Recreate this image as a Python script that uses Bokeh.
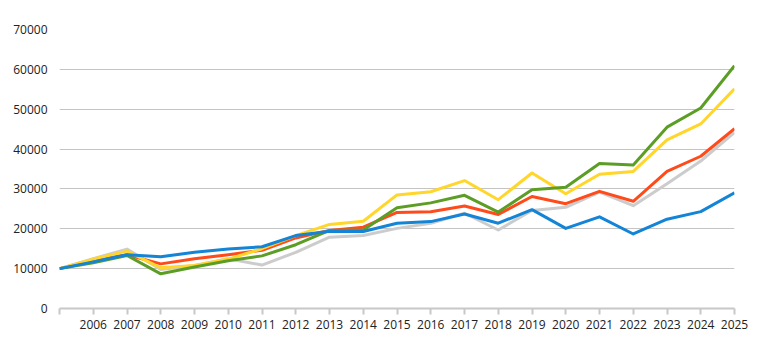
from bokeh.plotting import figure
from bokeh.models import Range1d, FixedTicker
from bokeh.embed import file_html
from bokeh.resources import INLINE

years = list(range(2005, 2026))
year_labels = [""] + [str(y) for y in range(2006, 2026)]

gray = [10000, 12500, 14900, 9800, 10800, 12500, 10900, 14100, 17900, 18300, 20100, 21400, 23900, 19700, 24600, 25400, 29200, 25800, 31300, 37000, 44200]
red = [10000, 12000, 13500, 11200, 12500, 13500, 14600, 17700, 19600, 20400, 24100, 24300, 25700, 23600, 28100, 26300, 29400, 26900, 34400, 38200, 45100]
yellow = [10000, 12400, 14400, 10200, 10800, 12400, 15000, 18300, 21100, 21900, 28500, 29300, 32100, 27300, 34000, 28800, 33700, 34400, 42300, 46300, 55100]
green = [10000, 11500, 13300, 8700, 10400, 12000, 13200, 16000, 19600, 19700, 25300, 26500, 28400, 24200, 29800, 30400, 36400, 36000, 45500, 50300, 60900]
blue = [10000, 11700, 13500, 13000, 14100, 14900, 15500, 18300, 19400, 19300, 21400, 21800, 23700, 21400, 24800, 20100, 23000, 18700, 22400, 24300, 29000]

series = [
    (gray, "#cccccc"),
    (red, "#ff4b1b"),
    (yellow, "#ffd629"),
    (green, "#5c9e25"),
    (blue, "#1384d6"),
]

p = figure(width=766, height=355, output_backend="svg", toolbar_location=None,
           x_range=Range1d(2005, 2025), y_range=Range1d(0, 70000),
           min_border_left=59, min_border_right=32, min_border_top=29, min_border_bottom=47)
p.outline_line_color = None
p.background_fill_color = "white"
p.border_fill_color = "white"

for data, color in series:
    p.line(years, data, line_color=color, line_width=3, line_join="round")

p.xgrid.grid_line_color = None
p.ygrid.grid_line_color = "#c4c4c4"
p.ygrid.grid_line_width = 1.2
p.yaxis.ticker = FixedTicker(ticks=list(range(0, 70001, 10000)))
p.yaxis.axis_line_color = None
p.yaxis.major_tick_line_color = None
p.yaxis.minor_tick_line_color = None
p.yaxis.major_label_standoff = 6
p.yaxis.major_label_text_font = "Open Sans"
p.yaxis.major_label_text_font_size = "12px"
p.yaxis.major_label_text_color = "#222222"

p.xaxis.ticker = FixedTicker(ticks=years)
p.xaxis.major_label_overrides = {y: l for y, l in zip(years, year_labels)}
p.xaxis.axis_line_color = "#c8c8c8"
p.xaxis.axis_line_width = 2
p.xaxis.major_tick_line_color = "#c8c8c8"
p.xaxis.major_tick_line_width = 2
p.xaxis.major_tick_in = 0
p.xaxis.major_tick_out = 6
p.xaxis.minor_tick_line_color = None
p.xaxis.major_label_standoff = 5
p.xaxis.major_label_text_font = "Open Sans"
p.xaxis.major_label_text_font_size = "12px"
p.xaxis.major_label_text_color = "#222222"

open("out.html", "w").write(file_html(p, INLINE))
